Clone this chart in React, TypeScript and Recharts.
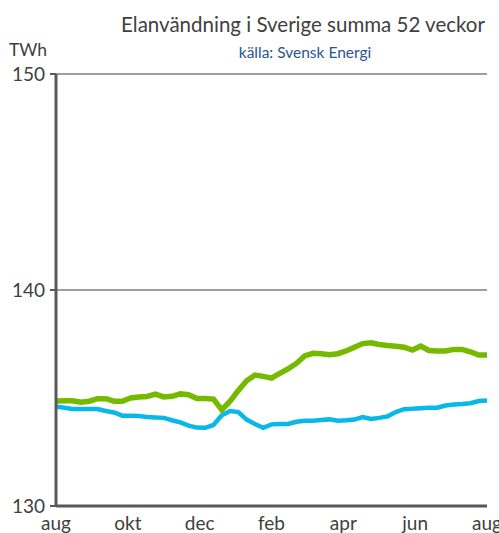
import React from "react";
import { LineChart, Line, XAxis, YAxis, CartesianGrid } from "recharts";

const monthLabels = ["aug", "okt", "dec", "feb", "apr", "jun", "aug"];
const monthTicks = [0, 52 / 6, 104 / 6, 26, 208 / 6, 260 / 6, 52];
const yTicks = [130, 140, 150];

// summa 52 veckor, TWh, en punkt per vecka
const greenSeries = [
  134.86, 134.87, 134.87, 134.8, 134.85, 134.97, 134.97, 134.85, 134.85, 135.0,
  135.05, 135.07, 135.18, 135.05, 135.08, 135.19, 135.15, 134.98, 134.98, 134.95,
  134.45, 134.85, 135.35, 135.8, 136.06, 136.0, 135.92, 136.14, 136.35, 136.6,
  136.95, 137.07, 137.05, 137.0, 137.05, 137.18, 137.35, 137.52, 137.56, 137.48,
  137.43, 137.4, 137.35, 137.22, 137.4, 137.2, 137.18, 137.18, 137.25, 137.25,
  137.14, 136.99, 136.99,
];
const blueSeries = [
  134.6, 134.55, 134.49, 134.49, 134.49, 134.49, 134.4, 134.33, 134.18, 134.18,
  134.17, 134.12, 134.1, 134.08, 133.97, 133.87, 133.72, 133.63, 133.62, 133.75,
  134.2, 134.4, 134.35, 134.0, 133.8, 133.62, 133.78, 133.8, 133.8, 133.9,
  133.95, 133.95, 133.98, 134.01, 133.95, 133.97, 134.0, 134.12, 134.03, 134.08,
  134.15, 134.35, 134.48, 134.5, 134.53, 134.55, 134.55, 134.65, 134.7, 134.72,
  134.76, 134.86, 134.88,
];

const data = greenSeries.map((g, i) => ({ w: i, green: g, blue: blueSeries[i] }));

const font = "Lato, 'Liberation Sans', sans-serif";

export default function App() {
  return (
    <div style={{ position: "absolute", left: 0, top: 0, width: 499, height: 533, background: "#fff", fontFamily: font }}>
      <div style={{ position: "absolute", left: 103, width: 400, top: 12, textAlign: "center", fontSize: 20.5, color: "#404040", whiteSpace: "nowrap" }}>
        Elanvändning i Sverige summa 52 veckor
      </div>
      <div style={{ position: "absolute", left: 105, width: 400, top: 43, textAlign: "center", fontSize: 15.5, color: "#2a5590", whiteSpace: "nowrap" }}>
        källa: Svensk Energi
      </div>
      <div style={{ position: "absolute", left: 9, top: 39, fontSize: 17.5, color: "#404040" }}>TWh</div>
      <LineChart width={499} height={533} data={data} margin={{ top: 74, right: 12, bottom: 0, left: 0 }}>
        <CartesianGrid vertical={false} stroke="#7f7f7f" strokeWidth={1.5} />
        <XAxis
          dataKey="w"
          type="number"
          domain={[0, 52]}
          ticks={monthTicks}
          tickFormatter={(_, i) => monthLabels[i]}
          interval={0}
          height={27}
          tickLine={false}
          axisLine={{ stroke: "#595959", strokeWidth: 3 }}
          tick={{ fill: "#404040", fontSize: 19, fontFamily: font, dy: 3 }}
          padding={{ left: 0, right: 0 }}
        />
        <YAxis
          domain={[130, 150]}
          ticks={yTicks}
          width={56}
          tickSize={6}
          axisLine={{ stroke: "#595959", strokeWidth: 3 }}
          tickLine={{ stroke: "#595959", strokeWidth: 2 }}
          tick={{ fill: "#404040", fontSize: 19, fontFamily: font, dx: -3 }}
        />
        <Line dataKey="blue" stroke="#0ab8e8" strokeWidth={4.5} dot={false} isAnimationActive={false} />
        <Line dataKey="green" stroke="#76ba00" strokeWidth={5.5} dot={false} isAnimationActive={false} />
      </LineChart>
    </div>
  );
}
